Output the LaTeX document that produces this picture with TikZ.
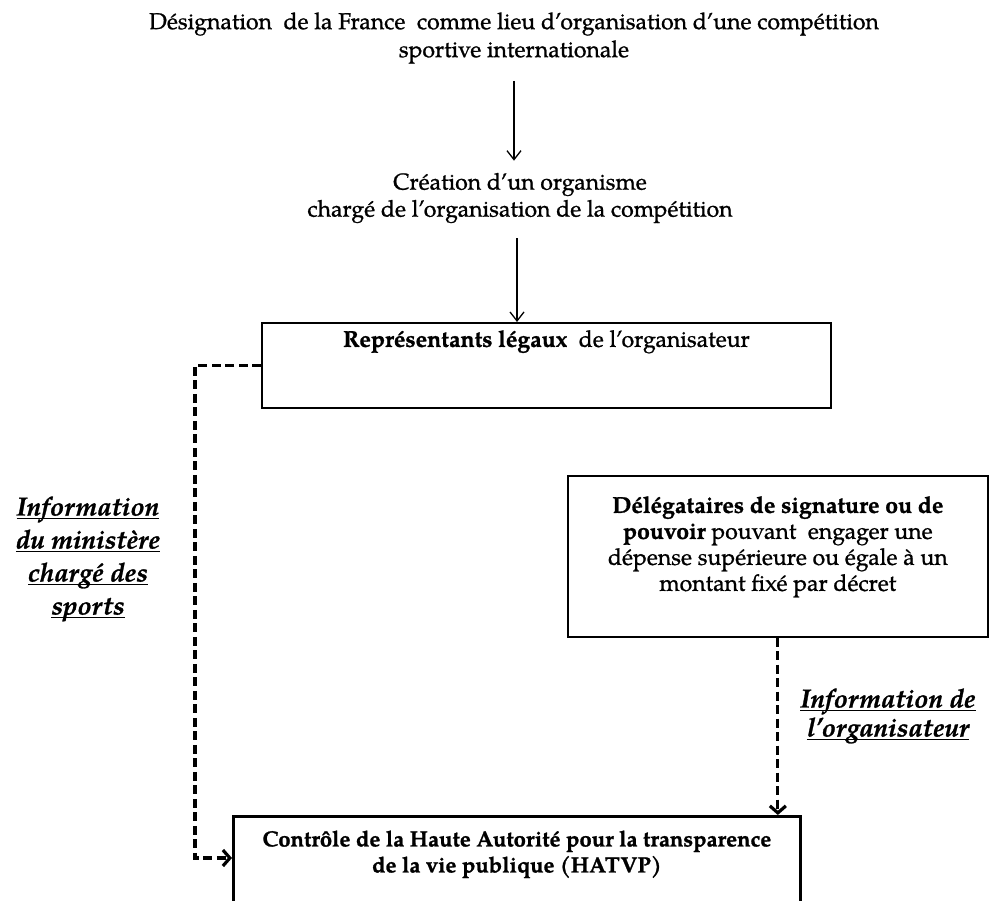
\documentclass[tikz,border=0pt]{standalone}
\usepackage{fontspec}
\setmainfont{texgyrepagella}[Extension=.otf, UprightFont=*-regular, BoldFont=*-bold, ItalicFont=*-italic, BoldItalicFont=*-bolditalic, UprightFeatures={FakeBold=0.9}, BoldFeatures={FakeBold=1.1}, BoldItalicFeatures={FakeBold=1.1}]
\usetikzlibrary{arrows.meta}
\newcommand\myul[1]{\setbox0=\hbox{#1}\rlap{\rule[-4pt]{\wd0}{1.5pt}}\box0}
\newcommand\toplines[1]{\begin{tabular}[t]{@{}c@{}}#1\end{tabular}}
\tikzset{
  txt/.style={align=center, inner sep=4pt, font=\fontsize{23}{27}\selectfont},
  lab/.style={align=center, inner sep=2pt},
  thinbox/.style={draw, line width=1.7pt, inner xsep=0pt, inner ysep=0pt},
  solidarrow/.style={line width=1.3pt, -{Straight Barb[length=9pt,width=14pt]}},
  dasharrow/.style={line width=3.2pt, dash pattern=on 9pt off 4.5pt, -{Straight Barb[length=7pt,width=16pt]}}
}
\begin{document}
\begin{tikzpicture}[x=1pt,y=-1pt]
\useasboundingbox (0,0) rectangle (990,900);
\fill[white] (0,0) rectangle (990,900);
\clip (0,0) rectangle (990,900);

\node[txt, font=\fontsize{23}{28}\selectfont] (desig) at (514,38) {Désignation~ de la France~ comme lieu d’organisation d’une compétition\\sportive internationale};
\node[txt] (creation) at (520,198) {Création d’un organisme\\chargé de l’organisation de la compétition};
\node[thinbox, anchor=north west, minimum width=569pt, text height=24pt, text depth=61pt, font=\fontsize{23}{27}\selectfont] (rep) at (261,322) {\textbf{Représentants légaux}~ de l’organisateur};
\node[thinbox, anchor=north west, minimum width=420pt, text height=37pt, text depth=124pt, font=\fontsize{23}{26}\selectfont] (deleg) at (567,475) {\toplines{\textbf{Délégataires de signature ou de}\\\textbf{pouvoir} pouvant~ engager une\\dépense supérieure ou égale à un\\montant fixé par décret}};
\node[draw, line width=2.8pt, anchor=north west, minimum width=567pt, inner xsep=0pt, inner ysep=0pt, text height=30pt, text depth=150pt, font=\bfseries\fontsize{22}{26}\selectfont] (hatvp) at (232,815) {\toplines{Contrôle de la Haute Autorité pour la transparence\\de la vie publique (HATVP)}};

\node[lab, font=\bfseries\itshape\fontsize{26}{33}\selectfont] (infomin) at (88,559) {\myul{Information}\\\myul{du ministère}\\\myul{chargé des}\\\myul{sports}};
\node[lab, font=\bfseries\itshape\fontsize{26}{29}\selectfont] (infoorg) at (888,716) {\myul{Information de}\\\myul{l’organisateur}};

\draw[solidarrow, shorten <=13pt, shorten >=8pt] (desig.south) -- (desig.south |- creation.north);
\coordinate (a2) at ([xshift=-3pt]creation.south);
\draw[solidarrow, shorten <=11pt] (a2) -- (a2 |- rep.north);

\coordinate (lc) at (195,858);
\draw[dasharrow] (rep.west) -| (lc) -- (lc -| hatvp.west);
\draw[dasharrow] (deleg.south) -- (deleg.south |- hatvp.north);
\end{tikzpicture}
\end{document}
